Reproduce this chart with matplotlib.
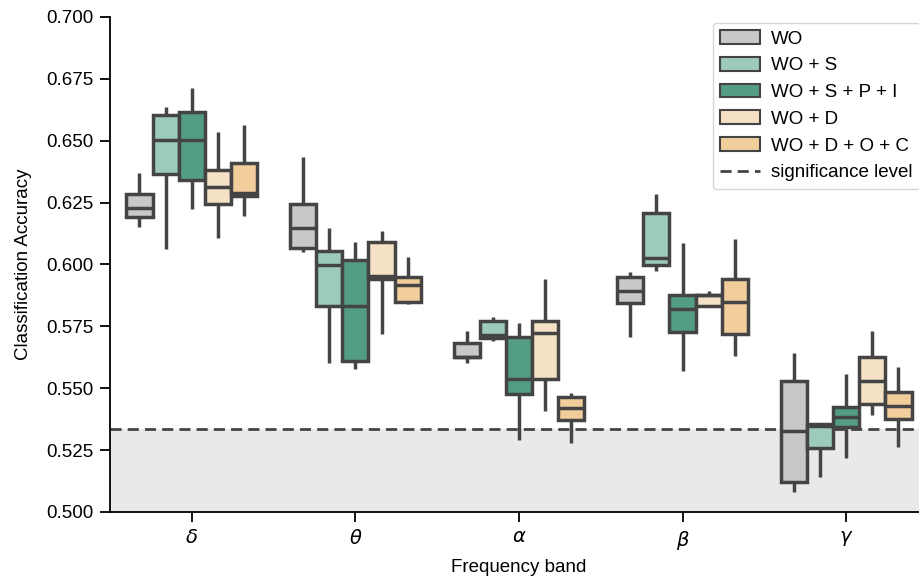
import matplotlib
matplotlib.use("Agg")
import matplotlib.pyplot as plt
from matplotlib.patches import Patch
from matplotlib.lines import Line2D

plt.rcParams['font.family'] = ['Liberation Sans', 'DejaVu Sans']
plt.rcParams['mathtext.fontset'] = 'dejavusans'

bands = [r'$\delta$', r'$\theta$', r'$\alpha$', r'$\beta$', r'$\gamma$']
features = ['WO', 'WO + S', 'WO + S + P + I', 'WO + D', 'WO + D + O + C']
colors = ['#c8c8c8', '#9dcbbb', '#539c86', '#f5e2c6', '#f2cd9c']

# box statistics per feature set, one value per band (delta, theta, alpha, beta, gamma)
q1 = {
    'WO':             [0.6191, 0.6068, 0.5626, 0.5843, 0.5121],
    'WO + S':         [0.6364, 0.5832, 0.5704, 0.5998, 0.5257],
    'WO + S + P + I': [0.6341, 0.5611, 0.5477, 0.5729, 0.5342],
    'WO + D':         [0.6244, 0.5940, 0.5536, 0.5832, 0.5436],
    'WO + D + O + C': [0.6277, 0.5850, 0.5372, 0.5719, 0.5375],
}
med = {
    'WO':             [0.6230, 0.6149, 0.5628, 0.5893, 0.5329],
    'WO + S':         [0.6503, 0.5998, 0.5715, 0.6025, 0.5348],
    'WO + S + P + I': [0.6503, 0.5832, 0.5536, 0.5819, 0.5385],
    'WO + D':         [0.6314, 0.5954, 0.5722, 0.5875, 0.5531],
    'WO + D + O + C': [0.6288, 0.5917, 0.5421, 0.5850, 0.5428],
}
q3 = {
    'WO':             [0.6284, 0.6244, 0.5682, 0.5948, 0.5531],
    'WO + S':         [0.6605, 0.6056, 0.5773, 0.6207, 0.5354],
    'WO + S + P + I': [0.6615, 0.6018, 0.5706, 0.5877, 0.5425],
    'WO + D':         [0.6382, 0.6092, 0.5772, 0.5877, 0.5627],
    'WO + D + O + C': [0.6411, 0.5948, 0.5466, 0.5940, 0.5486],
}
whislo = {
    'WO':             [0.6153, 0.6052, 0.5603, 0.5708, 0.5082],
    'WO + S':         [0.6063, 0.5603, 0.5692, 0.5975, 0.5143],
    'WO + S + P + I': [0.6225, 0.5578, 0.5291, 0.5571, 0.5217],
    'WO + D':         [0.6106, 0.5719, 0.5408, 0.5832, 0.5392],
    'WO + D + O + C': [0.6196, 0.5840, 0.5278, 0.5632, 0.5261],
}
whishi = {
    'WO':             [0.6371, 0.6433, 0.5733, 0.5971, 0.5644],
    'WO + S':         [0.6638, 0.6149, 0.5789, 0.6285, 0.5354],
    'WO + S + P + I': [0.6712, 0.6090, 0.5762, 0.6088, 0.5558],
    'WO + D':         [0.6534, 0.6134, 0.5940, 0.5893, 0.5733],
    'WO + D + O + C': [0.6564, 0.6029, 0.5480, 0.6103, 0.5585],
}
significance = 0.5335

edge = '#444444'
width = 0.16

fig = plt.figure(figsize=(9.2, 5.82), dpi=100)
ax = fig.add_axes([0.1196, 0.1203, 0.889, 0.8505])

ax.axhspan(0.5, significance, color='#e9e9e9', zorder=0, lw=0)
ax.axhline(significance, color=edge, ls='--', lw=2, dashes=(4, 2.2), zorder=1)

for j, f in enumerate(features):
    stats = []
    for i in range(len(bands)):
        stats.append(dict(q1=q1[f][i], med=med[f][i], q3=q3[f][i],
                          whislo=whislo[f][i], whishi=whishi[f][i], fliers=[]))
    pos = [i + (j - 2) * width for i in range(len(bands))]
    ax.bxp(stats, positions=pos, widths=width, patch_artist=True,
           showcaps=False, showfliers=False, manage_ticks=False,
           boxprops=dict(facecolor=colors[j], edgecolor=edge, linewidth=2.5),
           medianprops=dict(color=edge, linewidth=2.5),
           whiskerprops=dict(color=edge, linewidth=2.5, solid_capstyle='butt'),
           zorder=2)

ax.set_xlim(-0.5, 4.5)
ax.set_ylim(0.5, 0.7)
ax.set_xticks(range(len(bands)))
ax.set_xticklabels(bands, fontsize=14)
ax.set_yticks([0.5 + 0.025 * k for k in range(9)])
ax.set_yticklabels(['%.3f' % (0.5 + 0.025 * k) for k in range(9)])
ax.tick_params(axis='y', labelsize=13.5, length=7, width=1.3, pad=5)
ax.tick_params(axis='x', length=7, width=1.3, pad=5)
for s in ['top', 'right']:
    ax.spines[s].set_visible(False)
for s in ['left', 'bottom']:
    ax.spines[s].set_linewidth(1.3)

ax.set_ylabel('Classification Accuracy', fontsize=13.5, labelpad=10)
ax.set_xlabel('Frequency band', fontsize=13.5, labelpad=5)

handles = [Patch(facecolor=c, edgecolor=edge, linewidth=1.5, label=f)
           for c, f in zip(colors, features)]
handles.append(Line2D([0], [0], color=edge, ls='--', lw=2, dashes=(4, 2.2),
                      label='significance level'))
ax.legend(handles=handles, loc='upper right', bbox_to_anchor=(0.997, 1.0),
          fontsize=13.5, frameon=True, handlelength=2.1, handleheight=0.75,
          borderpad=0.4, borderaxespad=0.3, labelspacing=0.5,
          handletextpad=0.6)

fig.savefig('out.png', dpi=100)
